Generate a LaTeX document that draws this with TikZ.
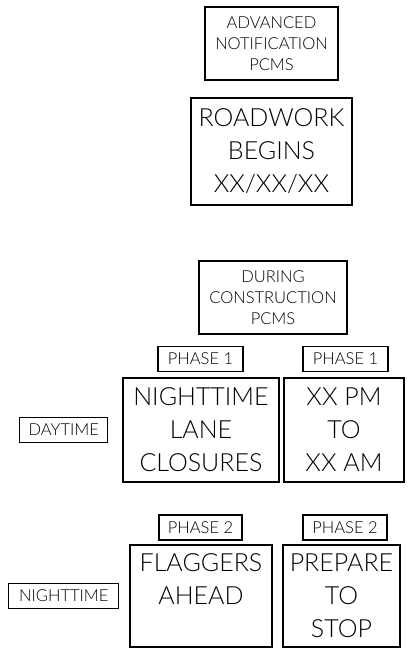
\documentclass[tikz,border=0pt]{standalone}
\usepackage{fontspec}
\setmainfont{Lato Light}
\usetikzlibrary{positioning}

\begin{document}
\begin{tikzpicture}[x=1pt,y=-1pt,
  font={\fontsize{16.5pt}{21pt}\selectfont},
  tag/.style={draw,line width=1.2pt,inner sep=0pt,align=center,minimum height=25pt},
  sign/.style={draw,line width=1.2pt,inner sep=0pt,align=center,minimum height=104pt,
    font={\fontsize{25pt}{33pt}\selectfont}}
  ]
  \useasboundingbox (0,0) rectangle (409,649);

  % before roadwork
  \node[tag,minimum width=133pt,minimum height=73pt] (advpcms) at (271.5,43.5) {ADVANCED\\NOTIFICATION\\PCMS};
  \node[sign,minimum width=161pt,minimum height=107pt] (begins) at (271.5,151.5) {ROADWORK\\BEGINS\\XX/XX/XX};

  % during construction
  \node[tag,minimum width=148pt,minimum height=73pt] (durpcms) at (273,297.5) {DURING\\CONSTRUCTION\\PCMS};

  % phase 1
  \node[tag,minimum width=85pt] (phaseoneL) at (200.5,359) {PHASE 1};
  \node[tag,minimum width=85pt] (phaseoneR) at (345.5,359) {PHASE 1};
  \node[sign,minimum width=156pt] (closures) at (201,430) {NIGHTTIME\\LANE\\CLOSURES};
  \node[sign,minimum width=120pt] (hours) at (344,430) {XX PM\\TO\\XX AM};
  \node[tag,minimum width=88pt,left=14pt of closures] (day) {DAYTIME};

  % phase 2
  \node[tag,minimum width=83pt] (phasetwoL) at (200.5,527.5) {PHASE 2};
  \node[tag,minimum width=84pt] (phasetwoR) at (345,527.5) {PHASE 2};
  \node[sign,minimum width=142pt,minimum height=102pt] (flaggers) at (201,596) {FLAGGERS\\AHEAD\\\mbox{}};
  \node[sign,minimum width=117pt,minimum height=102pt] (prepare) at (341.5,596) {PREPARE\\TO\\STOP};
  \node[tag,minimum width=110pt,left=10pt of flaggers] (night) {NIGHTTIME};
\end{tikzpicture}
\end{document}
